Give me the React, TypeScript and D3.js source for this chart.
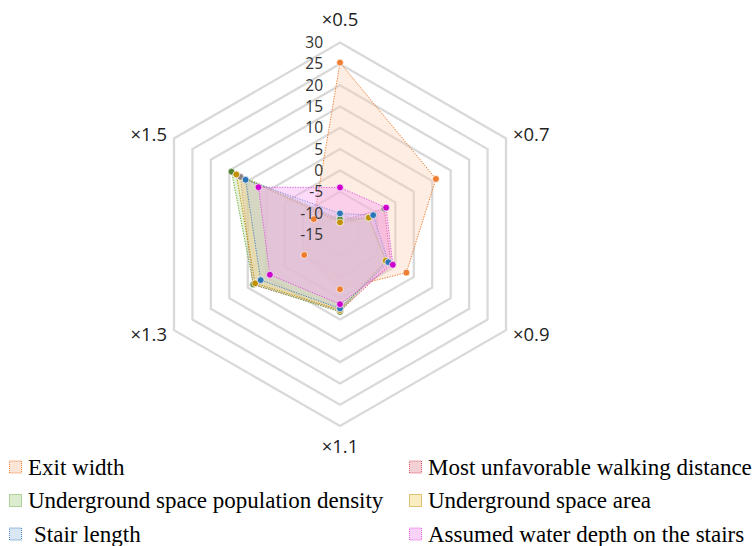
import React from "react";
import * as d3 from "d3";

// Axis categories (clockwise from the top) and radial tick values
const categories = ["×0.5", "×0.7", "×0.9", "×1.1", "×1.3", "×1.5"];
const tickValues = [-15, -10, -5, 0, 5, 10, 15, 20, 25, 30];

// Series values, one per category
const exitWidth = [25.3, 11.0, 3.0, -2.1, -5.3, -7.9];
const walkingDistance = [-11.8, -3.0, -1.2, 3.0, 8.6, 12.0];
const populationDensity = [-11.5, -7.3, -2.4, 3.2, 8.5, 14.4];
const spaceArea = [-12.2, -7.2, -2.6, 2.8, 8.0, 13.1];
const stairLength = [-10.1, -6.0, -1.9, 2.4, 6.5, 10.6];
const waterDepth = [-4.0, -2.5, -0.7, 1.4, 4.0, 7.1];

const seriesNames = [
  "Exit width",
  "Most unfavorable walking distance",
  "Underground space population density",
  "Underground space area",
  "Stair length",
  "Assumed water depth on the stairs",
];
const seriesData = [exitWidth, walkingDistance, populationDensity, spaceArea, stairLength, waterDepth];
const lineColors = ["#ED7D31", "#D2505F", "#70AD47", "#BF9000", "#4A86C5", "#E05CE0"];
const fillColors = ["#F8CBAD", "#E9A2AC", "#B9DB9F", "#F6DC86", "#B4D0EC", "#F7A6F2"];
const fillOpacity = [0.35, 0.42, 0.4, 0.32, 0.32, 0.42];
const markerColors = ["#ED7D31", "#8C8080", "#548235", "#BF9000", "#2E75B6", "#CC00CC"];

const W = 756;
const H = 546;
const cx = 340;
const cy = 234.3;
const R = 191.7;

export default function App() {
  const r = d3.scaleLinear().domain([-15, 30]).range([0, R]);
  const n = categories.length;
  const angle = (i: number) => (i * 2 * Math.PI) / n;

  const radial = d3
    .lineRadial<number>()
    .angle((_, i) => angle(i))
    .radius((d) => r(d))
    .curve(d3.curveLinearClosed);

  const ring = (v: number) =>
    d3
      .lineRadial<number>()
      .angle((_, i) => angle(i))
      .radius(() => r(v))
      .curve(d3.curveLinearClosed)(d3.range(n)) as string;

  const pt = (v: number, i: number) => {
    const a = angle(i);
    return [Math.sin(a) * r(v), -Math.cos(a) * r(v)];
  };

  const gridTicks = tickValues.filter((v) => v > -15);

  // Legend grid: two columns, three rows
  const legendCols = [9, 409];
  const legendRows = [467, 500.5, 534];

  return (
    <div style={{ position: "absolute", left: 0, top: 0 }}>
      <svg width={W} height={H} style={{ display: "block", background: "#fff" }}>
        <g transform={`translate(${cx},${cy})`}>
          {gridTicks.map((v) => (
            <path key={v} d={ring(v)} fill="none" stroke="#D9D9D9" strokeWidth={2.3} />
          ))}
          {/* filled areas with dotted outlines */}
          {seriesData.map((vals, s) => (
            <path
              key={s}
              d={radial(vals) as string}
              fill={fillColors[s]}
              fillOpacity={fillOpacity[s]}
              stroke={lineColors[s]}
              strokeWidth={1}
              strokeDasharray="1.3 1.3"
            />
          ))}
          {/* point markers on top */}
          {seriesData.map((vals, s) => (
            <g key={s}>
              {vals.map((v, i) => {
                const [x, y] = pt(v, i);
                return (
                  <circle key={i} cx={x} cy={y} r={3.4} fill={markerColors[s]} stroke="#fff" strokeWidth={0.7} />
                );
              })}
            </g>
          ))}
          {tickValues.map((v) => (
            <text
              key={v}
              x={-17}
              y={-r(v)}
              dy="0.36em"
              textAnchor="end"
              fontFamily="'Open Sans', sans-serif"
              fontSize={15.5}
              fill="#333"
            >
              {v}
            </text>
          ))}
          {categories.map((c, i) => {
            const a = angle(i);
            const sx = Math.sin(a);
            const sy = -Math.cos(a);
            const d = R + 8;
            let x = sx * d;
            let y = sy * d;
            let anchor: "start" | "end" | "middle" = "middle";
            let dy = "0.36em";
            if (Math.abs(sx) < 0.01) {
              anchor = "middle";
              if (sy < 0) {
                y = -R - 16.5;
                dy = "0";
              } else {
                y = R + 27.5;
                dy = "0";
              }
            } else {
              anchor = sx > 0 ? "start" : "end";
            }
            return (
              <text
                key={c}
                x={x}
                y={y}
                dy={dy}
                textAnchor={anchor}
                fontFamily="'Open Sans', sans-serif"
                fontSize={18.5}
                fill="#222"
              >
                {c}
              </text>
            );
          })}
        </g>
        {seriesNames.map((name, s) => {
          const col = s % 2;
          const row = Math.floor(s / 2);
          const x = legendCols[col];
          const y = legendRows[row];
          return (
            <g key={name}>
              <rect
                x={x + 0.5}
                y={y - 6}
                width={12}
                height={12}
                fill={fillColors[s]}
                fillOpacity={0.5}
                stroke={lineColors[s]}
                strokeWidth={1}
                strokeDasharray="1 1"
              />
              <text
                x={x + 19 + (s === 4 ? 6 : 0)}
                y={y}
                dy="0.33em"
                fontFamily="'Liberation Serif', 'Times New Roman', serif"
                fontSize={23}
                fill="#000"
              >
                {name}
              </text>
            </g>
          );
        })}
      </svg>
    </div>
  );
}
